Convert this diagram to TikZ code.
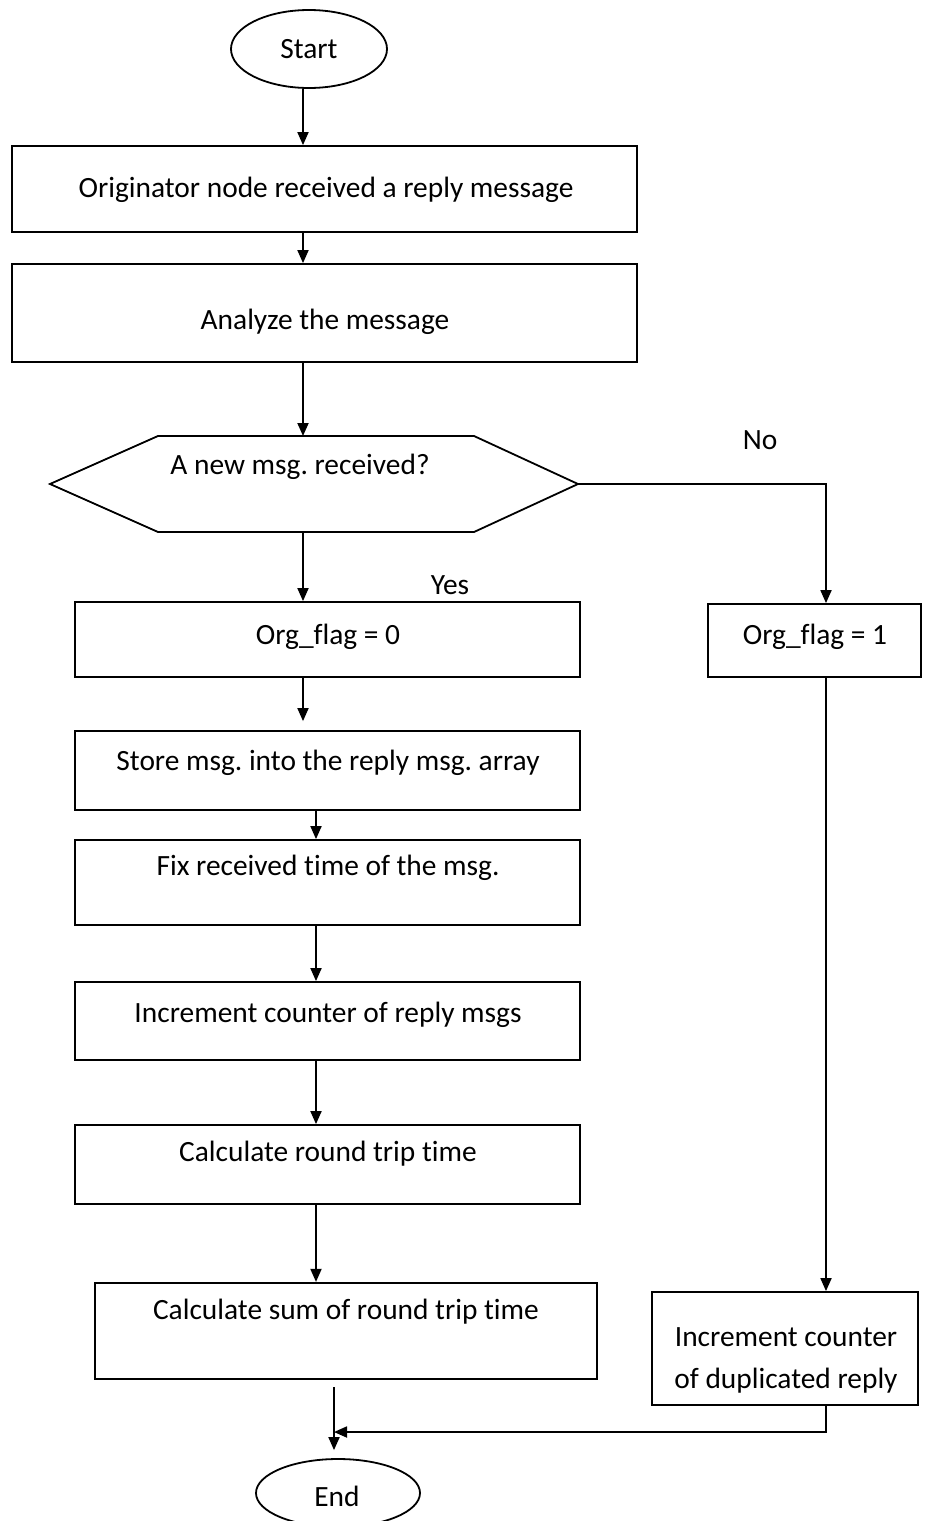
\documentclass[tikz,border=0pt]{standalone}
\usepackage{fontspec}
\setmainfont{Carlito}[Ligatures=NoCommon]
\usetikzlibrary{arrows.meta,shapes.geometric}
\frenchspacing
\begin{document}
\begin{tikzpicture}[x=0.5pt,y=-0.5pt,
  every node/.style={font=\fontsize{14.7}{17}\selectfont},
  box/.style={draw,line width=0.9pt,rectangle,inner sep=0pt},
  oval/.style={draw,line width=0.9pt,ellipse,inner sep=0pt},
  flow/.style={line width=0.9pt},
  arr/.style={flow,-{Triangle[length=6.5pt,width=5.5pt]}}]
\useasboundingbox (0,0) rectangle (935,1521);

% terminals
\node[oval,minimum width=78pt,minimum height=39pt] (start) at (309,49) {Start};
\node[oval,minimum width=82pt,minimum height=34pt] (end) at (338,1493) {};
\node at (337,1496) {End};

% process boxes
\node[box,minimum width=312.5pt,minimum height=43pt] (b1) at (324.5,189) {};
\node at (326,190) {Originator node received a reply message};
\node[box,minimum width=312.5pt,minimum height=49pt] (b2) at (324.5,313) {};
\node at (325,322) {Analyze the message};

% decision
\coordinate (hw) at (50,484);
\coordinate (he) at (578,484);
\coordinate (ht) at (303,436);
\coordinate (hb) at (303,532);
\draw[line width=0.9pt] (hw) -- (158,436) -- (474,436) -- (he) -- (474,532) -- (158,532) -- cycle;
\node (hex) at (300,467) {A new msg. received?};

\node[box,minimum width=252.5pt,minimum height=37.5pt] (b3) at (327.5,639.5) {};
\node at (328,637) {Org\_flag = 0};
\node[box,minimum width=106.5pt,minimum height=36.5pt] (b4) at (814.5,640.5) {};
\node at (815,637) {Org\_flag = 1};

\node[box,minimum width=252.5pt,minimum height=39.5pt] (b5) at (327.5,770.5) {};
\node at (328,763) {Store msg. into the reply msg. array};
\node[box,minimum width=252.5pt,minimum height=42.5pt] (b6) at (327.5,882.5) {};
\node at (328,868) {Fix received time of the msg.};
\node[box,minimum width=252.5pt,minimum height=39pt] (b7) at (327.5,1021) {};
\node at (328,1015) {Increment counter of reply msgs};
\node[box,minimum width=252.5pt,minimum height=39.5pt] (b8) at (327.5,1164.5) {};
\node at (328,1154) {Calculate round trip time};
\node[box,line width=1.1pt,minimum width=251pt,minimum height=48pt] (b9) at (346,1331) {};
\node at (346,1312) {Calculate sum of round trip time};
\node[box,minimum width=133pt,minimum height=56.5pt] (b10) at (785,1348.5) {};
\node[align=center,font=\fontsize{14.7}{21}\selectfont] at (786,1360) {Increment counter\\of duplicated reply};

% branch labels
\node at (450,585) {Yes};
\node at (760,440) {No};

% connector columns
\coordinate (c1) at (303,0);
\coordinate (c3) at (316,0);
\coordinate (c4) at (826,0);
\coordinate (c5) at (334,0);
\coordinate (turn) at (826,484);
\coordinate (join) at (826,1432);

\draw[arr] (start.south -| c1) -- (b1.north -| c1);
\draw[arr] (b1.south -| c1) -- (b2.north -| c1);
\draw[arr] (b2.south -| c1) -- (ht);
\draw[arr] (hb) -- (b3.north -| c1);
\draw[arr] (he) -- (turn) -- (b4.north -| c4);
\draw[arr,shorten >=4.5pt] (b3.south -| c1) -- (b5.north -| c1);
\draw[arr] (b5.south -| c3) -- (b6.north -| c3);
\draw[arr] (b6.south -| c3) -- (b7.north -| c3);
\draw[arr] (b7.south -| c3) -- (b8.north -| c3);
\draw[arr] (b8.south -| c3) -- (b9.north -| c3);
\draw[arr] (b4.south -| c4) -- (b10.north -| c4);
\draw[arr] (b10.south -| c4) -- (join) -- (join -| c5);
\draw[arr,shorten <=3.5pt,shorten >=4pt] (b9.south -| c5) -- (end.north -| c5);
\end{tikzpicture}
\end{document}
